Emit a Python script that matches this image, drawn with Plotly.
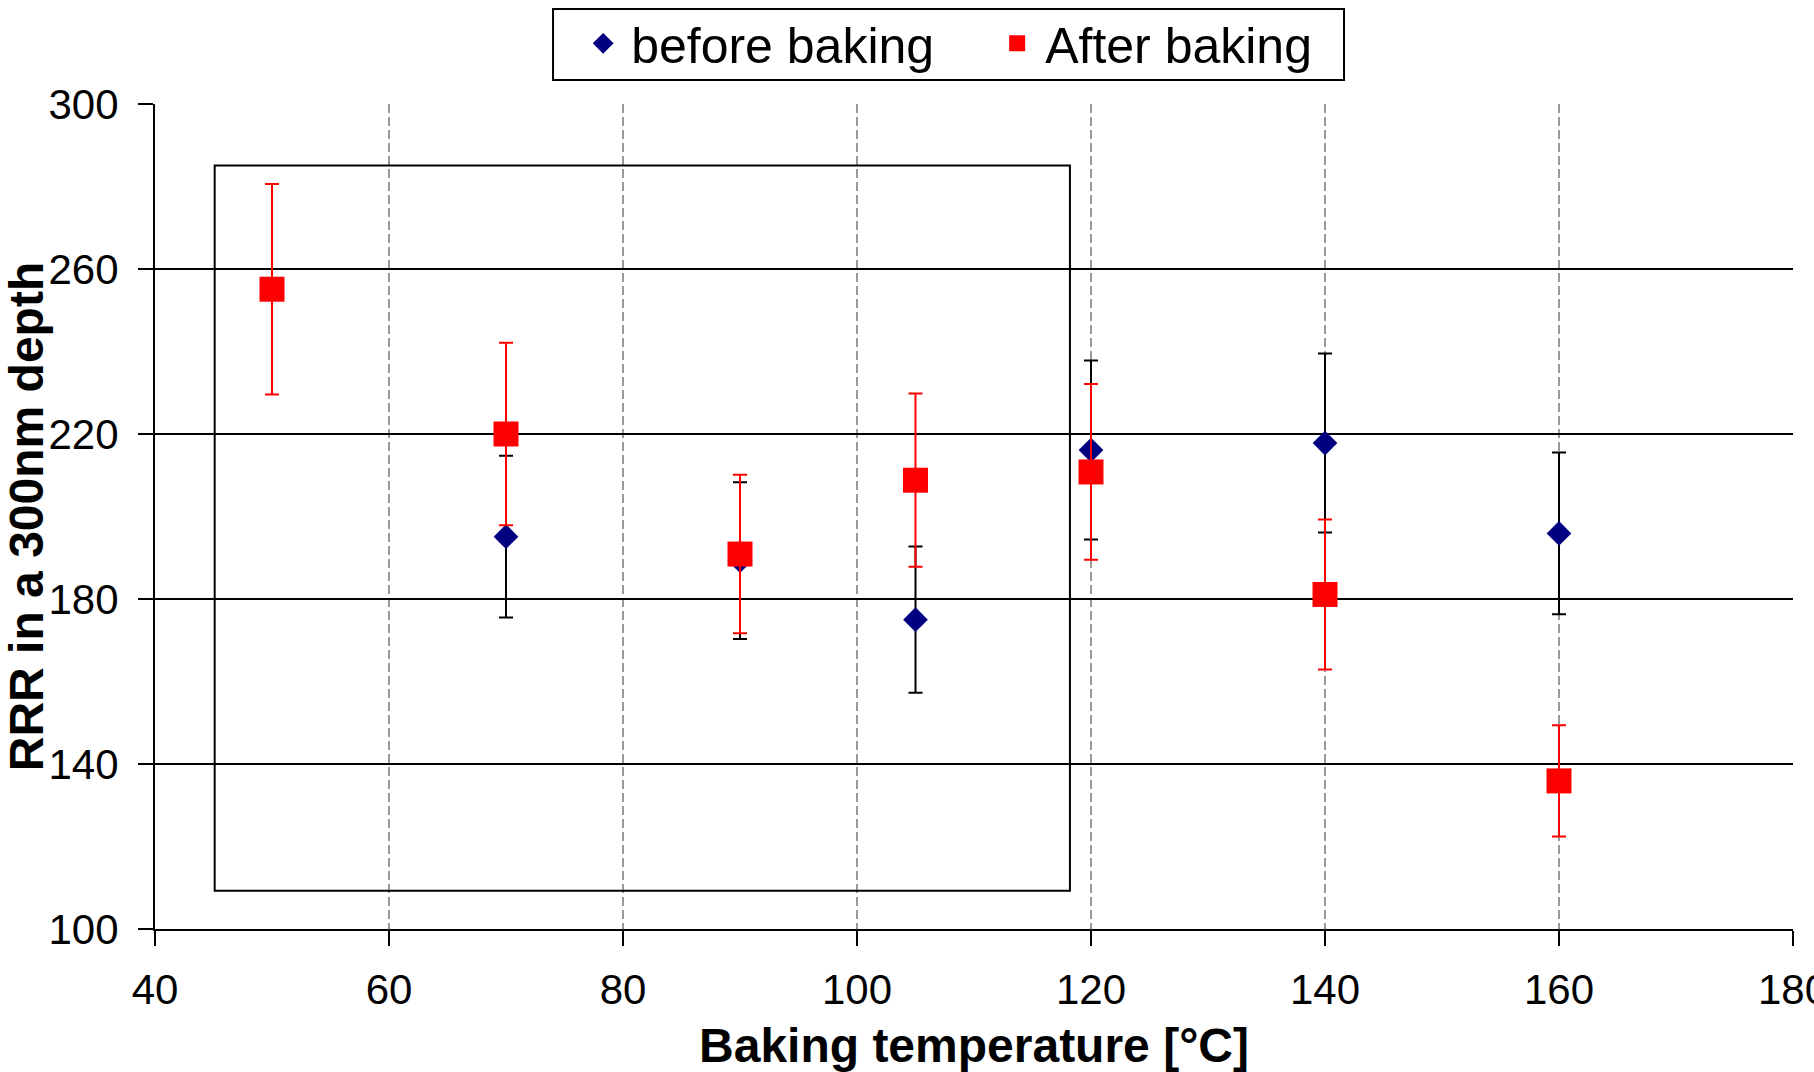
import plotly.graph_objects as go

# Baking temperatures (°C)
temp_before = [70, 90, 105, 120, 140, 160]
temp_after = [50, 70, 90, 105, 120, 140, 160]

# RRR values and their uncertainties
rrr_before = [195.1, 189.3, 175.0, 216.1, 217.8, 195.9]
err_before = [19.6, 19.0, 17.7, 21.7, 21.7, 19.6]

rrr_after = [255.1, 220.0, 190.9, 208.8, 210.8, 181.1, 135.9]
err_after = [25.5, 22.1, 19.2, 21.0, 21.3, 18.2, 13.5]

x_ticks = [40, 60, 80, 100, 120, 140, 160, 180]
y_ticks = [100, 140, 180, 220, 260, 300]

FONT = "Liberation Sans, Arial, sans-serif"

fig = go.Figure()

fig.add_trace(go.Scatter(
    x=temp_before, y=rrr_before, mode="markers", name="before baking",
    marker=dict(symbol="diamond", size=19, color="#000080", line=dict(width=0)),
    error_y=dict(type="data", array=err_before, visible=True,
                 color="black", thickness=2, width=7),
))

fig.add_trace(go.Scatter(
    x=temp_after, y=rrr_after, mode="markers", name="After baking",
    marker=dict(symbol="square", size=25, color="#FF0000", line=dict(width=0)),
    error_y=dict(type="data", array=err_after, visible=True,
                 color="#FF0000", thickness=2, width=7),
))

# highlighted region around the low-temperature measurements
fig.add_shape(type="rect", xref="x", yref="y",
              x0=45.1, x1=118.2, y0=109.3, y1=285.1,
              line=dict(color="black", width=2), fillcolor="rgba(0,0,0,0)",
              layer="above")

# frame around the legend entries
fig.add_shape(type="rect", xref="paper", yref="paper",
              x0=0.243, x1=0.7259, y0=1.0291, y1=1.1152,
              line=dict(color="black", width=2), fillcolor="white",
              layer="above")

fig.update_layout(
    width=1814, height=1072,
    margin=dict(l=155, r=21, t=104, b=143, autoexpand=False),
    paper_bgcolor="white", plot_bgcolor="white",
    font=dict(family=FONT, color="black"),
    showlegend=True,
    legend=dict(
        orientation="h", x=0.2565, xanchor="left", y=1.0735, yanchor="middle",
        font=dict(family=FONT, size=50, color="black"),
        bgcolor="rgba(0,0,0,0)", borderwidth=0,
        itemwidth=46, entrywidth=353, entrywidthmode="pixels",
        itemsizing="trace",
    ),
    xaxis=dict(
        range=[40, 180], tickmode="array", tickvals=x_ticks,
        ticks="outside", ticklen=15, tickwidth=2, tickcolor="black",
        tickfont=dict(family=FONT, size=42, color="black"),
        showline=True, linecolor="black", linewidth=2,
        showgrid=True, gridcolor="#9a9a9a", gridwidth=1.5, griddash="9px,4px",
        zeroline=False, ticklabelstandoff=8, ticklabeloverflow="allow",
        title=dict(text="<b>Baking temperature [°C]</b>",
                   font=dict(family=FONT, size=48, color="black"), standoff=26),
    ),
    yaxis=dict(
        range=[100, 300], tickmode="array", tickvals=y_ticks,
        ticks="outside", ticklen=15, tickwidth=2, tickcolor="black",
        tickfont=dict(family=FONT, size=42, color="black"),
        showline=True, linecolor="black", linewidth=2,
        showgrid=True, gridcolor="black", gridwidth=2,
        zeroline=False, ticklabelstandoff=11, ticklabeloverflow="allow",
        title=dict(text="<b>RRR in a 300nm depth</b>",
                   font=dict(family=FONT, size=48, color="black"), standoff=24),
    ),
)

fig.write_html("out.html")
